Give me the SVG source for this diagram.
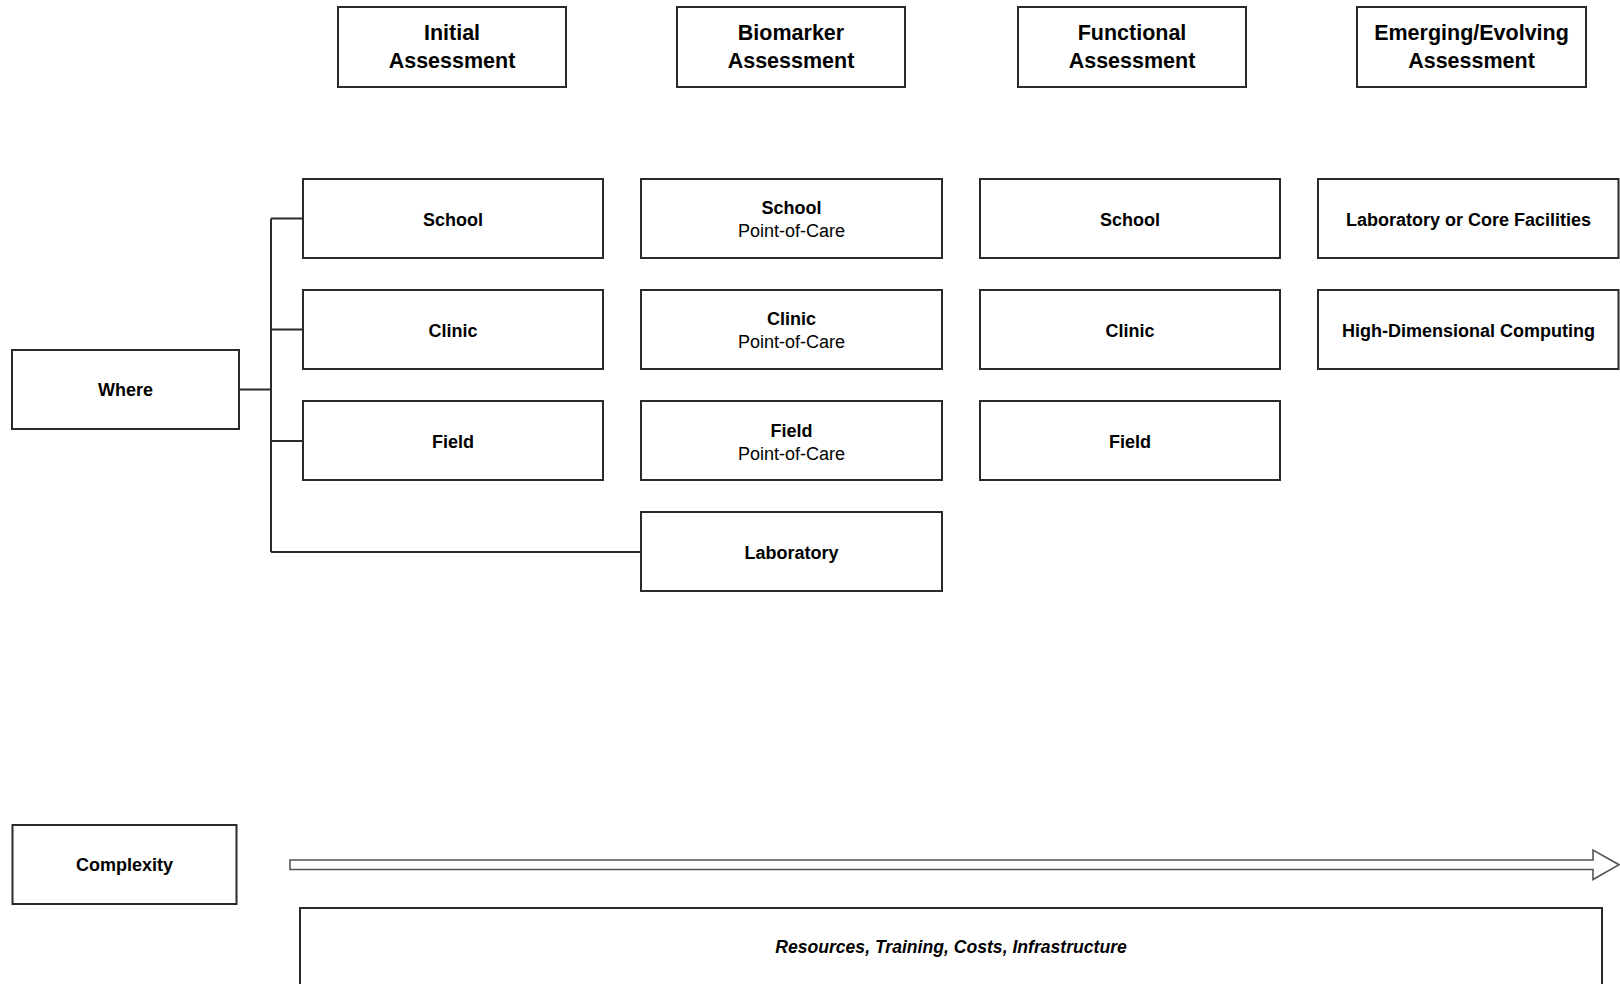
<svg xmlns="http://www.w3.org/2000/svg" width="1620" height="984" viewBox="0 0 1620 984">
<style>
.box{fill:#fff;stroke:#2a2a2a;stroke-width:2}
.h{font-family:"Liberation Sans",Arial,sans-serif;font-weight:bold;font-size:21.5px;fill:#000;text-anchor:middle}
.t{font-family:"Liberation Sans",Arial,sans-serif;font-weight:bold;font-size:18px;fill:#000;text-anchor:middle}
.r{font-family:"Liberation Sans",Arial,sans-serif;font-weight:normal;font-size:18px;fill:#000;text-anchor:middle}
.i{font-family:"Liberation Sans",Arial,sans-serif;font-weight:bold;font-style:italic;font-size:17.6px;fill:#000;text-anchor:middle}
.ln{fill:none;stroke:#2a2a2a;stroke-width:2}
</style>
<rect width="1620" height="984" fill="#fff"/>
<g id="connectors">
<path class="ln" d="M239 389.5H271M271 218.5V552M271 218.5H303M271 329.5H303M271 441H303M271 552H641"/>
<polygon points="290,860 1593,860 1593,850 1619,864.7 1593,879.5 1593,869.5 290,869.5" fill="#fff" stroke="#555" stroke-width="1.6"/>
</g>
<g id="h-initial"><rect class="box" x="338" y="7" width="228" height="80"/><text class="h" x="452" y="40">Initial</text><text class="h" x="452" y="67.5">Assessment</text></g>
<g id="h-biomarker"><rect class="box" x="677" y="7" width="228" height="80"/><text class="h" x="791" y="40">Biomarker</text><text class="h" x="791" y="67.5">Assessment</text></g>
<g id="h-functional"><rect class="box" x="1018" y="7" width="228" height="80"/><text class="h" x="1132" y="40">Functional</text><text class="h" x="1132" y="67.5">Assessment</text></g>
<g id="h-emerging"><rect class="box" x="1357" y="7" width="229" height="80"/><text class="h" x="1471.5" y="40">Emerging/Evolving</text><text class="h" x="1471.5" y="67.5">Assessment</text></g>

<g id="where"><rect class="box" x="12" y="350" width="227" height="79"/><text class="t" x="125.5" y="396">Where</text></g>

<g id="c1-school"><rect class="box" x="303" y="179" width="300" height="79"/><text class="t" x="453" y="225.5">School</text></g>
<g id="c1-clinic"><rect class="box" x="303" y="290" width="300" height="79"/><text class="t" x="453" y="336.5">Clinic</text></g>
<g id="c1-field"><rect class="box" x="303" y="401" width="300" height="79"/><text class="t" x="453" y="448">Field</text></g>

<g id="c2-school"><rect class="box" x="641" y="179" width="301" height="79"/><text class="t" x="791.5" y="214">School</text><text class="r" x="791.5" y="237">Point-of-Care</text></g>
<g id="c2-clinic"><rect class="box" x="641" y="290" width="301" height="79"/><text class="t" x="791.5" y="325">Clinic</text><text class="r" x="791.5" y="348">Point-of-Care</text></g>
<g id="c2-field"><rect class="box" x="641" y="401" width="301" height="79"/><text class="t" x="791.5" y="436.5">Field</text><text class="r" x="791.5" y="459.5">Point-of-Care</text></g>
<g id="c2-lab"><rect class="box" x="641" y="512" width="301" height="79"/><text class="t" x="791.5" y="559">Laboratory</text></g>

<g id="c3-school"><rect class="box" x="980" y="179" width="300" height="79"/><text class="t" x="1130" y="225.5">School</text></g>
<g id="c3-clinic"><rect class="box" x="980" y="290" width="300" height="79"/><text class="t" x="1130" y="336.5">Clinic</text></g>
<g id="c3-field"><rect class="box" x="980" y="401" width="300" height="79"/><text class="t" x="1130" y="448">Field</text></g>

<g id="c4-lab"><rect class="box" x="1318" y="179" width="300.5" height="79"/><text class="t" x="1468.5" y="225.5">Laboratory or Core Facilities</text></g>
<g id="c4-hdc"><rect class="box" x="1318" y="290" width="300.5" height="79"/><text class="t" x="1468.5" y="336.5">High-Dimensional Computing</text></g>

<g id="complexity"><rect class="box" x="12.5" y="825" width="224" height="79"/><text class="t" x="124.5" y="871">Complexity</text></g>
<g id="resources"><rect class="box" x="300" y="908" width="1302" height="90"/><text class="i" x="951" y="953">Resources, Training, Costs, Infrastructure</text></g>
</svg>
